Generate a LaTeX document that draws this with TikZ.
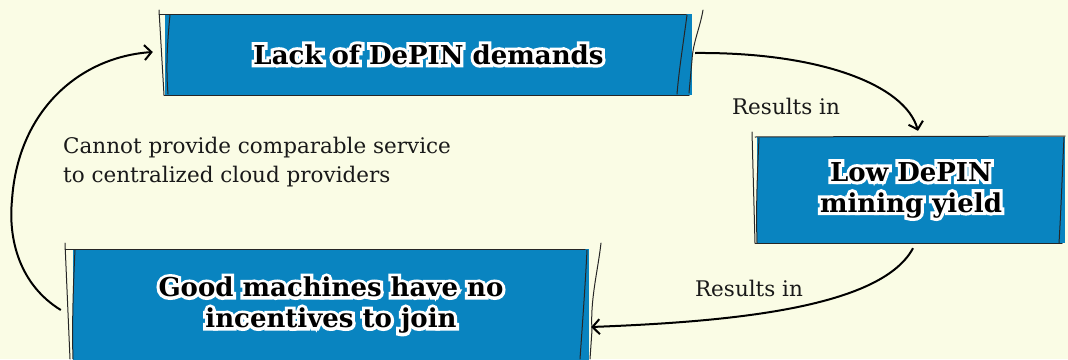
\documentclass[tikz,border=0pt]{standalone}
\usepackage{fontspec}
\usetikzlibrary{arrows.meta}
\newfontfamily\lblfont{DejaVu Serif}
\newfontfamily\boxfont{DejaVu Serif}
\newfontfamily\boxfontW{DejaVu Serif}[BoldFeatures={FakeBold=24}]
\definecolor{bgc}{RGB}{250,252,229}
\definecolor{boxblue}{RGB}{9,132,192}
\newcommand\otxt[1]{\leavevmode\rlap{\boxfontW\bfseries\color{white}#1}{\boxfont\bfseries\color{black}#1}}
\tikzset{
  box/.style={fill=boxblue, inner sep=0pt, align=center, font=\fontsize{26}{31}\selectfont, text=black},
  sk/.style={draw=black!85, line width=1pt, line cap=round},
  conn/.style={draw=black, line width=2pt, -{Straight Barb[length=7pt,width=15pt,line width=2pt]}},
  lbl/.style={font=\lblfont\fontsize{21.5}{29}\selectfont, inner sep=0pt, text=black!90},
}
\begin{document}
\begin{tikzpicture}[x=1pt,y=-1pt]
\fill[bgc] (0,0) rectangle (1068,359);
\useasboundingbox (0,0) rectangle (1068,359);

\node[box, minimum width=527pt, minimum height=81pt] (lack) at (428.5,54.5) {\otxt{Lack of DePIN demands}};
\node[box, minimum width=308pt, minimum height=106pt] (low) at (911,190) {\otxt{Low DePIN}\\\otxt{mining yield}};
\node[box, minimum width=516pt, minimum height=112pt] (good) at (331,305) {\otxt{Good machines have no}\\\otxt{incentives to join}};

% sketch strokes, top box
\draw[sk] (159,10) -- (164,95);
\draw[sk] (170,15) .. controls (167,45) and (166,70) .. (168,94);
\draw[sk] (159,14) -- (686,14);
\draw[sk] (164,95) -- (689,95);
\draw[sk] (687,15) .. controls (683,45) and (679,70) .. (677,94);
\draw[sk] (703,10) .. controls (700,28) and (693,42) .. (692,60) -- (689,93);
% right box
\draw[sk] (752,132) -- (755,243);
\draw[sk] (759,138) .. controls (757,180) and (756,210) .. (757,243);
\draw[sk] (755,137) -- (1065,136);
\draw[sk] (755,243) -- (1062,243);
\draw[sk] (1064,137) .. controls (1062,180) and (1061,210) .. (1059,243);
% bottom box
\draw[sk] (65,243) -- (70,359);
\draw[sk] (75,250) .. controls (73,290) and (72,330) .. (73,359);
\draw[sk] (65,249) -- (585,249);
\draw[sk] (587,250) .. controls (585,290) and (582,330) .. (580,359);
\draw[sk] (601,243) .. controls (598,270) and (590,300) .. (592,330) -- (590,359);

% connectors
\draw[conn] ([shift={(3,-1.5)}]lack.east) .. controls (820,52) and (905,85) .. ([shift={(7,-6)}]low.north);
\draw[conn] ([shift={(2,5)}]low.south) .. controls (880,310) and (720,322) .. ([shift={(2,22)}]good.east);
\draw[conn] ([shift={(-12,5)}]good.west) .. controls (20,285) and (8,240) .. (12,200) .. controls (18,110) and (80,57) .. ([shift={(-12,-2.5)}]lack.west);

% labels
\node[lbl] (res1) at (786,106) {Results in};
\node[lbl] (res2) at (749,288) {Results in};
\node[lbl, anchor=west, align=left] (cant) at (63,162) {Cannot provide comparable service\\to centralized cloud providers};
\end{tikzpicture}
\end{document}
